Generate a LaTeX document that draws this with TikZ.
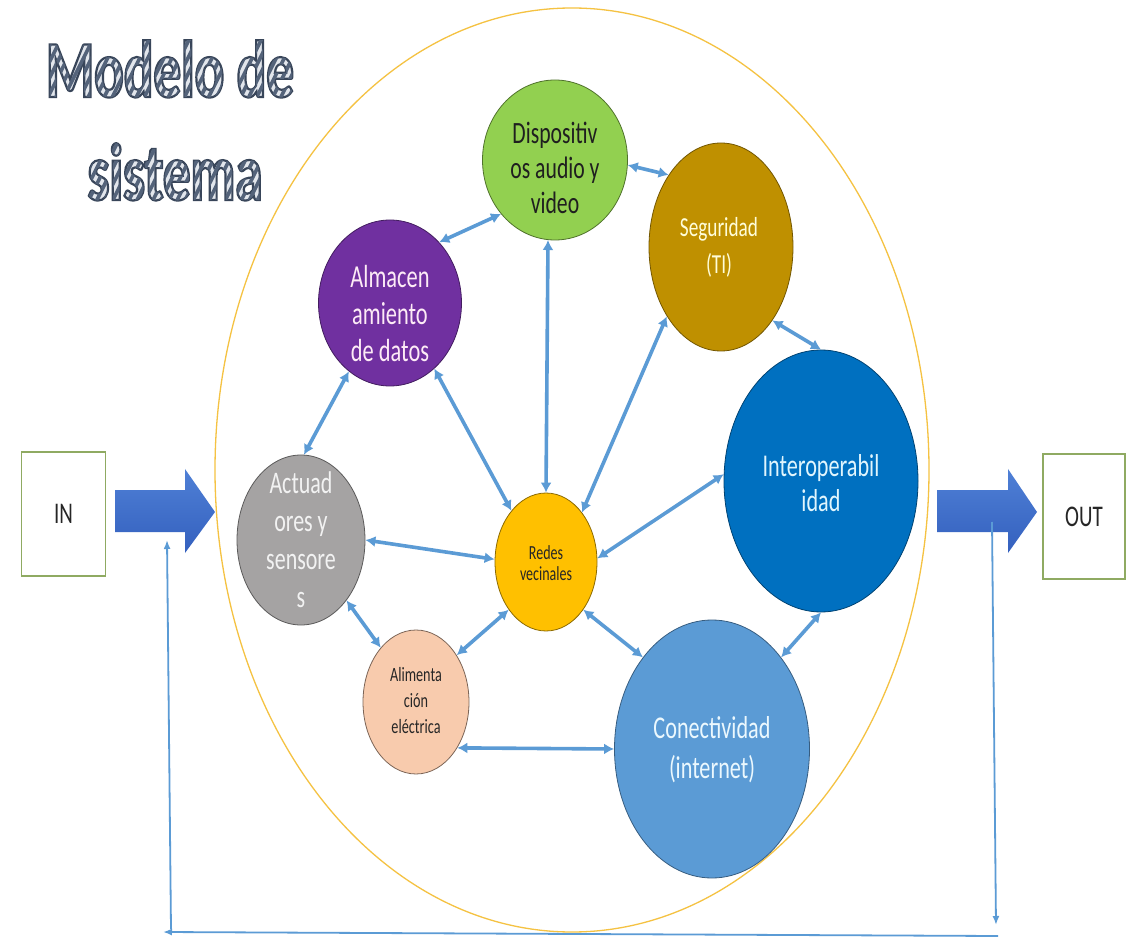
\documentclass[tikz,border=0pt]{standalone}
\usepackage{fontspec}
\setmainfont{Carlito}[FakeStretch=0.7]
\newfontfamily\titlefont{Carlito}[FakeStretch=0.68]
\usetikzlibrary{arrows.meta,shapes.geometric}
\definecolor{conn}{HTML}{5B9BD5}
\definecolor{cGreen}{HTML}{92D050}
\definecolor{cGold}{HTML}{BF9000}
\definecolor{cPurple}{HTML}{7030A0}
\definecolor{cBlue}{HTML}{0070C0}
\definecolor{cGrey}{HTML}{A5A3A3}
\definecolor{cOrange}{HTML}{FFC000}
\definecolor{cPeach}{HTML}{F8CBAD}
\definecolor{cLBlue}{HTML}{5B9BD5}
\definecolor{boxgreen}{HTML}{8FAA62}
\definecolor{bigring}{HTML}{F5C242}
\definecolor{titlefill}{HTML}{E2E6EC}
\definecolor{arrtop}{HTML}{4F80D6}
\definecolor{arrbot}{HTML}{3460BE}
% diagonal stripes for the title lettering (drawn clipped to the glyphs)
\newcount\stripei
\def\stripecmds{}
\stripei=0
\loop
  \edef\stripecmds{\stripecmds\space\the\numexpr -340+\stripei*8\relax\space -30 m \the\numexpr -340+\stripei*8+60\relax\space 90 l}
  \advance\stripei by 1
\ifnum\stripei<56 \repeat
\newcommand\stripedtext[1]{\special{pdf:literal direct 6 Tr 2.2 w 0.22 0.27 0.35 RG}#1\special{pdf:literal direct 0 Tr}\special{pdf:content 0.33 0.39 0.48 RG 3.6 w\stripecmds\space S}}
\begin{document}
\begin{tikzpicture}[x=1pt,y=-1pt,
  ell/.style={ellipse, inner sep=0pt, line width=0.8pt},
  lbl/.style={align=center, inner sep=0pt},
  link/.style={conn, line width=3.6pt, {Latex[length=10pt,width=11pt]}-{Latex[length=10pt,width=11pt]}},
  fb/.style={conn, line width=1.8pt, -{Latex[length=9pt,width=7pt]}},
  iobox/.style={draw=boxgreen, line width=1.2pt, fill=white, minimum width=84pt, minimum height=124pt, inner sep=0pt, text=black!85, font=\fontsize{30}{30}\selectfont},
  bigarrow/.style={top color=arrtop, bottom color=arrbot, draw=none}
]
\useasboundingbox (0,0) rectangle (1133,949);
\fill[white] (0,0) rectangle (1133,949);

% title
\node[anchor=base, text=titlefill, inner sep=0pt] (title1) at (170,97)
  {\titlefont\bfseries\fontsize{81}{81}\selectfont\stripedtext{Modelo de}};
\node[anchor=base, text=titlefill, inner sep=0pt] (title2) at (175,200)
  {\titlefont\bfseries\fontsize{81}{81}\selectfont\stripedtext{sistema}};

% big ring
\node[ellipse, draw=bigring, line width=1.3pt, minimum width=714pt, minimum height=924pt, inner sep=0pt] (ring) at (572,470) {};

% circles
\node[ell, fill=cGreen, draw=cGreen!55!black, minimum width=145pt, minimum height=160pt] (dis) at (555,160) {};
\node[ell, fill=cGold, draw=cGold!60!black, minimum width=144pt, minimum height=208pt] (seg) at (721,247) {};
\node[ell, fill=cPurple, draw=cPurple!60!black, minimum width=143pt, minimum height=166pt] (alm) at (390,303) {};
\node[ell, fill=cBlue, draw=cBlue!60!black, minimum width=194pt, minimum height=262pt] (int) at (821,481) {};
\node[ell, fill=cGrey, draw=cGrey!55!black, minimum width=128pt, minimum height=170pt] (act) at (301,540) {};
\node[ell, fill=cOrange, draw=cOrange!55!black, minimum width=102pt, minimum height=138pt] (red) at (546,562) {};
\node[ell, fill=cPeach, draw=cPeach!50!black, minimum width=106pt, minimum height=144pt] (ali) at (416,702) {};
\node[ell, fill=cLBlue, draw=cLBlue!60!black, minimum width=195pt, minimum height=258pt] (con) at (712,749) {};

% labels
\node[lbl, text=black!88, font=\fontsize{31}{35}\selectfont] (dis-t) at (555,168) {Dispositiv\\os audio y\\video};
\node[lbl, text=yellow!15, font=\fontsize{27.5}{37}\selectfont] (seg-t) at (719,247) {Seguridad\\(TI)};
\node[lbl, text=white!92!magenta, font=\fontsize{32}{37}\selectfont] (alm-t) at (390,314) {Almacen\\amiento\\de datos};
\node[lbl, text=white!88!cyan, font=\fontsize{31.7}{35}\selectfont] (int-t) at (821,483) {Interoperabil\\idad};
\node[lbl, text=white!95!black, font=\fontsize{31.4}{38}\selectfont] (act-t) at (301,540) {Actuad\\ores y\\sensore\\s};
\node[lbl, text=black!85, font=\fontsize{20}{21}\selectfont] (red-t) at (546,563) {Redes\\vecinales};
\node[lbl, text=black!85, font=\fontsize{20.3}{26}\selectfont] (ali-t) at (416,701) {Alimenta\\ción\\eléctrica};
\node[lbl, text=white!92!cyan, font=\fontsize{31.7}{40}\selectfont] (con-t) at (712,750) {Conectividad\\(internet)};

% connectors
\draw[link] (alm.51.6) -- (dis.225);
\draw[link] (dis.-4) -- (seg.126.7);
\draw[link] (seg.-55.3) -- (int.90.4);
\draw[link] (int.-90) -- (con.53);
\draw[link] (alm.239) -- (act.88.6);
\draw[link] (act.0) -- (red.177.7);
\draw[link] (act.-53) -- (ali.123.7);
\draw[link] (alm.-56) -- (red.124.7);
\draw[link] (dis.-95) -- (red.90);
\draw[link] (seg.232) -- (red.54.6);
\draw[link] (int.176) -- (red.4.4);
\draw[link] (red.232) -- (ali.49);
\draw[link] (red.-52.4) -- (con.127.7);
\draw[link] (ali.-48.8) -- (con.180);

% in / out
\node[iobox] (in) at (63.5,514) {IN};
\node[iobox, minimum width=82pt, minimum height=125pt] (out) at (1084,516.5) {OUT};

\shade[bigarrow] (115,490) -- (185,490) -- (185,469) -- (215,512) -- (185,553) -- (185,532) -- (115,532) -- cycle;
\shade[bigarrow] (937,490) -- (1008,490) -- (1008,469) -- (1037,512) -- (1008,553) -- (1008,532) -- (937,532) -- cycle;

% feedback
\coordinate (f1) at (992,522);
\coordinate (f2) at (996,925);
\coordinate (f3) at (998,936);
\coordinate (f4) at (163,932);
\coordinate (f5) at (171,929);
\coordinate (f6) at (167,540);
\draw[fb] (f1) -- (f2);
\draw[fb] (f3) -- (f4);
\draw[fb] (f5) -- (f6);
\end{tikzpicture}
\end{document}
